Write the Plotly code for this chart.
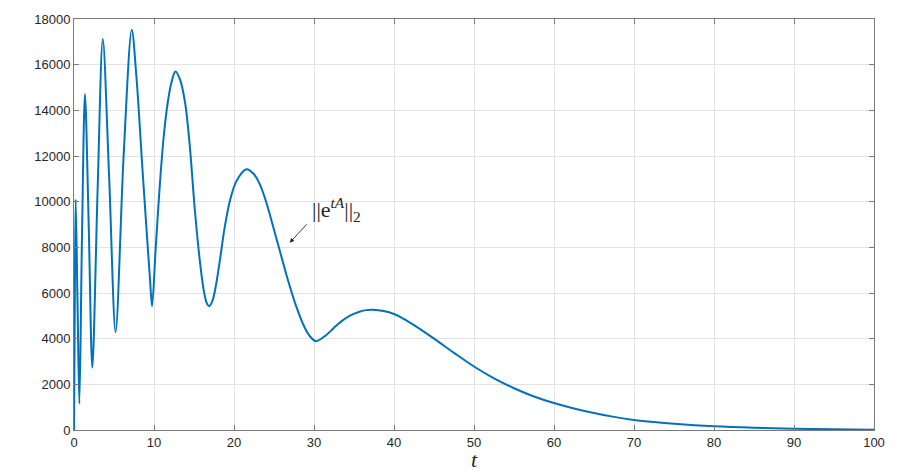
import plotly.graph_objects as go

# valores
t = [0, 0.1, 0.21, 0.44, 0.67, 1.0, 1.37, 1.85, 2.29, 2.95, 3.6, 4.4, 5.2,
     6.2, 7.22, 7.8, 8.55, 9.1, 9.5, 9.76, 10.2, 10.7, 11.2, 11.7, 12.2,
     12.68, 13.3, 13.9, 14.46, 15.09, 15.7, 16.2, 16.6, 16.9, 17.3, 17.7,
     18.2, 18.8, 19.46, 20.3, 21.55, 22.5, 23.3, 24.1, 24.9, 25.7, 26.75,
     27.8, 28.8, 29.5, 30.25, 31.5, 32.5, 33.5, 34.5, 35.5, 36.5, 37.4,
     38.7, 40, 41.2, 42.5, 45, 47.5, 50, 52.5, 55, 57.5, 60, 62.5, 65, 67.5,
     70, 72.5, 75, 80, 85, 90, 95, 100]
norma = [0, 5500, 10100, 5600, 1150, 8500, 14720, 8800, 2730, 10500, 17120,
         11000, 4290, 12000, 17530, 15480, 11470, 8600, 6600, 5420, 7900,
         10600, 12800, 14300, 15250, 15700, 15300, 14300, 12500, 9700, 7500,
         6150, 5550, 5420, 5650, 6250, 7350, 8800, 10000, 10900, 11420, 11200,
         10700, 9900, 8900, 7880, 6560, 5390, 4510, 4100, 3890, 4150, 4480,
         4780, 5010, 5160, 5250, 5270, 5210, 5080, 4870, 4590, 4000, 3380,
         2780, 2260, 1830, 1470, 1180, 940, 740, 575, 440, 345, 270, 160, 95,
         55, 30, 15]

x_ticks = list(range(0, 101, 10))
y_ticks = list(range(0, 18001, 2000))

serif = "Liberation Serif, DejaVu Serif, serif"

fig = go.Figure()
fig.add_trace(
    go.Scatter(
        x=t,
        y=norma,
        mode="lines",
        line=dict(color="#0072BD", width=2, shape="spline", smoothing=0.9),
        showlegend=False,
        hoverinfo="skip",
    )
)

# rótulo com seta
fig.add_annotation(
    x=26.96, y=8200, ax=29.25, ay=9070, axref="x", ayref="y",
    text="", showarrow=True, arrowhead=2, arrowsize=1, arrowwidth=0.9,
    arrowcolor="#262626",
)
fig.add_annotation(
    x=29.5, y=9650, xanchor="left", yanchor="middle", showarrow=False,
    text="||e<sup><i>tA</i></sup>||<sub>2</sub>",
    font=dict(family=serif, size=22, color="#262626"),
)

eixo = dict(
    showline=True, linecolor="#7a7a7a", linewidth=1, mirror="ticks",
    ticks="inside", ticklen=5, tickcolor="#7a7a7a", automargin=False,
    showgrid=True, gridcolor="#e3e3e3", gridwidth=1, zeroline=False,
    tickfont=dict(family="Liberation Sans", size=13, color="#262626"),
)
fig.update_xaxes(
    range=[0, 100], tickvals=x_ticks, **eixo,
    title=dict(text="<i>t</i>", font=dict(family=serif, size=22,
                                          color="#262626"), standoff=6),
)
fig.update_yaxes(range=[0, 18000], tickvals=y_ticks, tickformat="d", **eixo)
# a página tem 8 px de margem no body: a figura é reduzida para caber
fig.update_layout(
    width=904, height=464,
    margin=dict(l=66, r=38, t=11, b=42),
    paper_bgcolor="white", plot_bgcolor="white",
)
fig.write_html("out.html")
